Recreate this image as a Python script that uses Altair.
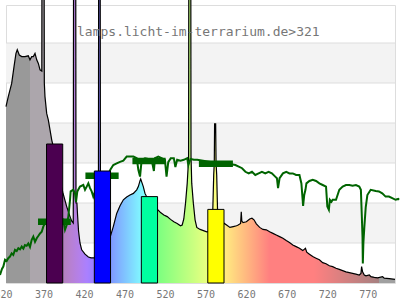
import altair as alt
import pandas as pd

TITLE = "lamps.licht-im-terrarium.de>321"
x_ticks = [320, 370, 420, 470, 520, 570, 620, 670, 720, 770]

# lamp spectrum (relative units)
spec_nm = [320.0, 322.8, 327.0, 329.9, 332.3, 333.9, 336.4, 339.4, 343.4, 347.5,
           349.6, 351.7, 353.7, 355.8, 357.9, 359.9, 362.0, 364.2, 364.6, 366.6,
           367.3, 368.1, 370.2, 372.2, 374.3, 376.4, 377.6, 380.0, 385.0, 390.0,
           394.9, 399.0, 401.0, 403.0, 403.6, 405.8, 406.4, 407.5, 408.3, 409.5,
           411.3, 413.4, 417.5, 421.6, 425.0, 429.0, 434.0, 434.5, 436.0, 436.6,
           440.0, 445.0, 448.7, 452.4, 456.6, 460.7, 464.8, 468.9, 473.0, 477.2,
           481.3, 483.3, 485.4, 486.2, 489.4, 491.5, 495.0, 500.0, 505.0, 507.5,
           510.7, 514.8, 518.9, 523.0, 527.1, 531.2, 535.3, 537.4, 539.4, 541.5,
           543.6, 545.3, 545.8, 547.8, 548.3, 549.2, 551.2, 553.3, 555.4, 559.5,
           563.6, 567.7, 571.0, 575.2, 576.3, 577.0, 577.4, 578.7, 579.2, 580.0,
           581.0, 585.0, 589.3, 592.2, 596.3, 600.4, 604.5, 606.5, 609.5, 610.3,
           611.0, 612.5, 616.6, 620.7, 623.5, 626.0, 628.9, 633.0, 637.1, 641.2,
           645.3, 649.4, 653.5, 657.6, 661.7, 665.8, 669.8, 673.9, 678.0, 682.1,
           686.2, 689.5, 691.1, 694.4, 698.5, 702.6, 706.7, 710.8, 714.9, 719.0,
           723.1, 727.2, 731.3, 735.4, 739.5, 743.6, 747.7, 751.8, 755.9, 758.0,
           758.8, 760.0, 762.1, 764.2, 768.3, 770.3, 774.4, 778.5, 784.7, 786.7,
           792.9, 800.0]
spec_val = [4.41, 4.66, 4.99, 5.41, 5.74, 5.83, 5.70, 5.66, 5.66, 5.68,
            5.58, 5.66, 5.66, 5.74, 5.58, 5.49, 5.33, 5.30, 12.0, 12.0,
            5.00, 4.66, 4.24, 4.08, 3.83, 3.58, 3.47, 3.20, 2.70, 2.27,
            1.91, 1.66, 1.55, 1.50, 12.0, 12.0, 2.00, 2.00, 1.70, 1.30,
            1.00, 0.83, 0.72, 0.65, 0.63, 0.63, 0.80, 12.0, 12.0, 0.90,
            0.85, 1.00, 1.16, 1.41, 1.74, 1.93, 2.08, 2.15, 2.20, 2.24,
            2.33, 2.41, 2.56, 2.60, 2.41, 2.24, 2.10, 2.00, 1.90, 1.83,
            1.76, 1.70, 1.66, 1.59, 1.53, 1.49, 1.43, 1.45, 1.60, 1.99,
            2.49, 3.10, 12.0, 12.0, 3.16, 2.49, 1.99, 1.58, 1.39, 1.34,
            1.31, 1.28, 1.29, 1.84, 2.70, 3.00, 3.98, 3.98, 3.00, 2.70,
            1.84, 1.40, 1.49, 1.45, 1.39, 1.41, 1.43, 1.45, 1.49, 1.78,
            1.55, 1.51, 1.53, 1.60, 1.62, 1.58, 1.48, 1.39, 1.34, 1.33,
            1.28, 1.24, 1.20, 1.16, 1.12, 1.06, 1.01, 0.95, 0.91, 0.87,
            0.81, 0.87, 0.77, 0.72, 0.66, 0.62, 0.58, 0.51, 0.48, 0.43,
            0.41, 0.37, 0.34, 0.31, 0.28, 0.26, 0.24, 0.22, 0.20, 0.24,
            0.41, 0.28, 0.20, 0.18, 0.20, 0.16, 0.14, 0.13, 0.16, 0.12,
            0.11, 0.09]

# reference (daylight) spectrum
sun_nm = [312.6, 315.0, 316.7, 318.8, 320.8, 322.8, 324.9, 327.0, 329.0, 331.1,
          333.2, 335.2, 337.3, 339.4, 341.4, 343.4, 345.5, 347.5, 349.6, 351.7,
          353.7, 355.8, 357.9, 360.0, 362.0, 364.1, 366.0, 368.1, 375.0, 382.0,
          388.0, 390.7, 392.8, 394.9, 396.9, 399.0, 399.8, 403.0, 405.1, 406.4,
          408.0, 411.3, 415.4, 417.5, 419.6, 421.6, 423.7, 425.7, 427.7, 432.0,
          438.0, 444.0, 448.7, 452.4, 456.6, 460.7, 464.8, 468.9, 473.0, 477.2,
          481.3, 483.3, 485.4, 487.4, 491.5, 495.6, 499.7, 502.5, 503.8, 507.9,
          512.0, 516.1, 518.1, 520.2, 523.3, 527.1, 529.0, 531.2, 535.3, 539.4,
          543.6, 545.0, 547.7, 551.8, 555.9, 565.0, 580.0, 595.0, 603.0, 607.2,
          611.3, 615.4, 619.5, 623.5, 627.6, 631.7, 635.8, 639.9, 644.0, 648.1,
          652.2, 654.3, 655.7, 657.6, 661.7, 665.8, 669.8, 673.9, 678.0, 682.1,
          684.5, 686.6, 688.0, 689.5, 690.7, 694.4, 698.5, 702.6, 706.7, 710.8,
          714.9, 716.5, 718.4, 719.6, 721.6, 723.1, 727.2, 731.3, 735.4, 739.5,
          743.6, 747.7, 751.8, 755.9, 757.9, 759.1, 759.9, 760.3, 761.0, 762.2,
          763.9, 765.9, 770.0, 776.2, 780.2, 784.3, 788.4, 792.5, 796.6, 800.7,
          804.0, 805.0]
sun_val = [0.20, 0.35, 0.41, 0.58, 0.55, 0.62, 0.66, 0.74, 0.70, 0.83,
           0.80, 0.87, 0.84, 0.91, 0.86, 0.95, 0.93, 0.99, 0.90, 1.08,
           1.16, 1.03, 1.12, 1.18, 1.24, 1.28, 1.41, 1.49, 1.50, 1.52,
           1.55, 1.58, 1.33, 1.45, 1.66, 2.08, 2.29, 2.33, 2.24, 2.03,
           2.29, 2.41, 2.45, 2.33, 2.41, 2.49, 2.37, 2.29, 2.16, 2.40,
           2.50, 2.60, 2.83, 2.95, 2.99, 3.03, 3.06, 3.16, 3.16, 3.16,
           3.12, 2.83, 2.66, 3.08, 3.12, 3.10, 3.08, 2.80, 3.12, 3.16,
           3.12, 3.08, 2.66, 3.02, 3.12, 3.12, 2.90, 3.08, 3.06, 3.08,
           3.12, 2.95, 3.10, 3.08, 3.08, 3.05, 3.00, 2.98, 2.95, 2.91,
           2.87, 2.78, 2.74, 2.78, 2.70, 2.74, 2.78, 2.74, 2.78, 2.74,
           2.66, 2.62, 2.37, 2.62, 2.74, 2.78, 2.74, 2.74, 2.70, 2.70,
           2.49, 1.93, 2.20, 2.33, 2.49, 2.55, 2.58, 2.55, 2.49, 2.45,
           2.41, 1.91, 1.83, 2.08, 2.03, 2.08, 2.08, 2.33, 2.41, 2.45,
           2.45, 2.43, 2.45, 2.41, 2.33, 1.65, 1.15, 0.49, 1.00, 1.41,
           1.90, 2.20, 2.33, 2.30, 2.29, 2.24, 2.16, 2.16, 2.12, 2.08,
           2.10, 2.08]

# lamp band values (bars) and reference band values (thick green marks)
bar_lo = [370, 429, 487, 569]
bar_hi = [390, 449, 507, 589]
bar_val = [3.475, 2.80, 2.16, 1.84]
bar_col = ["#4b0050", "#0000ff", "#00ffa0", "#ffff00"]
seg_lo = [359.5, 418, 476, 558]
seg_hi = [400, 459, 517, 600]
seg_val = [1.53, 2.68, 3.05, 2.98]

band_lo = [1, 3, 5]
band_hi = [2, 4, 6]
grid_y = [1, 2, 3, 4, 5, 6]

# colour ramp of the spectrum fill (style)
grad_nm = [320, 349.6, 349.6, 380, 380, 390, 400, 410, 420, 430, 440, 450, 460,
           470, 480, 490, 500, 510, 530, 550, 570, 580, 600, 620, 645, 700, 720,
           740, 760, 780, 780, 800]
grad_col = ["#999999", "#999999", "#aca6ac", "#aca6ac", "#a680a6", "#b280bc",
            "#b780d2", "#b480e9", "#aa80ff", "#9580ff", "#8080ff", "#8099ff",
            "#80b3ff", "#80ccff", "#80e6ff", "#80ffff", "#80ffbf", "#80ff80",
            "#a4ff80", "#c8ff80", "#edff80", "#ffff80", "#ffd880", "#ffb180",
            "#ff8080", "#ff8080", "#e98080", "#d28080", "#bc8080", "#a68080",
            "#a0a0a0", "#a0a0a0"]

X0, X1 = 320, 800
stops = [alt.GradientStop(color=c, offset=(n - X0) / (X1 - X0))
         for n, c in zip(grad_nm, grad_col)]
grad = alt.Gradient(gradient="linear", stops=stops, x1=0, x2=1, y1=0, y2=0)

spec = pd.DataFrame({"nm": spec_nm, "v": spec_val})
sun = pd.DataFrame({"nm": sun_nm, "v": sun_val})
bars = pd.DataFrame({"lo": bar_lo, "hi": bar_hi, "v": bar_val, "c": bar_col})
segs = pd.DataFrame({"lo": seg_lo, "hi": seg_hi, "v": seg_val})
bands = pd.DataFrame({"lo": band_lo, "hi": band_hi})
grid = pd.DataFrame({"g": grid_y})
title_df = pd.DataFrame({"t": [TITLE]})

XS = alt.Scale(domain=[X0, X1], nice=False, zero=False)
YS = alt.Scale(domain=[0, 6.95], nice=False, zero=False)

xaxis = alt.Axis(values=x_ticks, title=None, grid=False, ticks=False, tickSize=0,
                 domain=False, labelFont="DejaVu Sans Mono", labelFontSize=10,
                 labelColor="#777777", labelPadding=6, labelOffset=-3,
                 labelFlush=False, labelOverlap=False, labelBound=False)


def xenc(field):
    return alt.X(field, scale=XS, axis=xaxis)


band_layer = alt.Chart(bands).mark_rect(color="#f3f3f3").encode(
    y=alt.Y("lo:Q", scale=YS, axis=None), y2="hi:Q")
grid_layer = alt.Chart(grid).mark_rule(color="#dddddd", strokeWidth=1).encode(
    y=alt.Y("g:Q", scale=YS, axis=None))
area_layer = alt.Chart(spec).mark_area(color=grad, opacity=1).encode(
    x=xenc("nm:Q"), y=alt.Y("v:Q", scale=YS, axis=None))
line_layer = alt.Chart(spec).mark_line(color="black", strokeWidth=1.2).encode(
    x=xenc("nm:Q"), y=alt.Y("v:Q", scale=YS, axis=None))
sun_layer = alt.Chart(sun).mark_line(color="#006400", strokeWidth=2).encode(
    x=xenc("nm:Q"), y=alt.Y("v:Q", scale=YS, axis=None))
seg_layer = alt.Chart(segs).mark_rule(color="#006400", strokeWidth=6.5,
                                      strokeCap="butt").encode(
    x=xenc("lo:Q"), x2="hi:Q", y=alt.Y("v:Q", scale=YS, axis=None))
bar_layer = alt.Chart(bars).mark_rect(stroke="black", strokeWidth=1).encode(
    x=xenc("lo:Q"), x2="hi:Q",
    y=alt.Y("v:Q", scale=YS, axis=None), y2=alt.Y2(datum=0),
    color=alt.Color("c:N", scale=None, legend=None))
title_layer = alt.Chart(title_df).mark_text(
    align="left", baseline="alphabetic", font="DejaVu Sans Mono", fontSize=13,
    color="#777777").encode(x=alt.value(71), y=alt.value(31), text="t:N")

chart = alt.layer(
    band_layer, grid_layer, area_layer, line_layer, sun_layer, seg_layer,
    bar_layer, title_layer
).properties(
    width=389, height=278,
    autosize="none",
    padding={"left": 6, "top": 5, "right": 5, "bottom": 17},
).configure_view(stroke="#dddddd", strokeWidth=1).configure(background="white")

chart.save("out.html", embed_options={"renderer": "svg", "actions": False})
